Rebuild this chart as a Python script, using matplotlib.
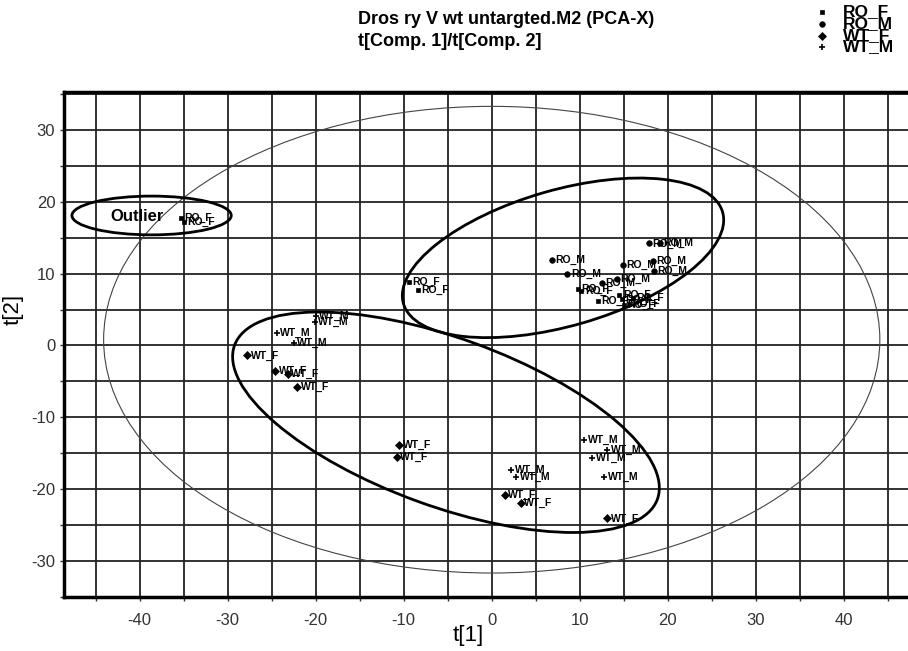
import numpy as np
import matplotlib
matplotlib.use("Agg")
import matplotlib.pyplot as plt
from matplotlib.patches import Ellipse
from matplotlib.transforms import ScaledTranslation

plt.rcParams['font.family'] = ['Liberation Sans', 'DejaVu Sans']
plt.rcParams['axes.unicode_minus'] = False

# scores
ro_f_x = [-35.3, -35.0, -9.4, -8.4, 9.8, 10.2, 12.1, 14.5, 14.8, 15.0, 16.0, 15.6]
ro_f_y = [17.7, 17.2, 8.8, 7.7, 7.8, 7.6, 6.2, 7.0, 6.4, 5.6, 6.6, 5.8]
ro_m_x = [6.8, 8.6, 12.5, 14.2, 14.9, 17.9, 19.1, 18.3, 18.4]
ro_m_y = [11.9, 10.0, 8.75, 9.3, 11.2, 14.2, 14.3, 11.7, 10.4]
wt_f_x = [-27.8, -24.6, -23.2, -22.1, -10.5, -10.8, 1.5, 3.3, 13.1]
wt_f_y = [-1.4, -3.5, -4.0, -5.8, -13.9, -15.5, -20.8, -22.0, -24.1]
wt_m_x = [-20.0, -20.1, -24.4, -22.5, 2.2, 2.8, 10.5, 13.1, 11.4, 12.8]
wt_m_y = [4.1, 3.3, 1.8, 0.3, -17.4, -18.3, -13.2, -14.5, -15.7, -18.3]

groups = [
    ("RO_F", ro_f_x, ro_f_y, "s", 3.5),
    ("RO_M", ro_m_x, ro_m_y, "o", 4),
    ("WT_F", wt_f_x, wt_f_y, "D", 4),
    ("WT_M", wt_m_x, wt_m_y, "+", 4),
]

fig = plt.figure(figsize=(9.08, 6.51), dpi=100)
ax = fig.add_axes([0.0708, 0.0825, 0.9292, 0.7762])
ax.set_xlim(-48.57, 47.3)
ax.set_ylim(-35.08, 35.3)

ax.set_xticks(np.arange(-40, 41, 10))
ax.set_xticks(np.arange(-45, 47, 5), minor=True)
ax.set_yticks(np.arange(-30, 31, 10))
ax.set_yticks(np.arange(-35, 36, 5), minor=True)
ax.grid(True, which='both', color='#222222', lw=1.3)
ax.set_axisbelow(True)
ax.tick_params(which='both', direction='out', length=3, width=1, colors='#333333', labelsize=12)
ax.tick_params(axis='x', pad=8)

for s in ['top', 'bottom', 'left']:
    ax.spines[s].set_linewidth(2.5)
ax.spines['right'].set_visible(False)

# Hotelling T2 ellipse
ax.add_patch(Ellipse((0, 0.8), 88.2, 65, fill=False, lw=0.8, color='#444444'))
# outlier ring
ax.add_patch(Ellipse((-38.65, 18.1), 18.1, 5.4, fill=False, lw=2, color='black'))
ax.text(-40.3, 18.0, "Outlier", fontsize=12, fontweight='bold', ha='center', va='center')


def screen_ellipse(cx, cy, w_px, h_px, ang):
    tr = fig.dpi_scale_trans + ScaledTranslation(cx, cy, ax.transData)
    ax.add_patch(Ellipse((0, 0), w_px / 100, h_px / 100, angle=ang,
                         transform=tr, fill=False, lw=2, color='black'))


screen_ellipse(8.1, 12.2, 332, 136, 16)
screen_ellipse(-5.2, -10.7, 450, 168, -20)

for name, xs, ys, m, ms in groups:
    mew = 1.2 if m == "+" else 0.5
    ax.plot(xs, ys, ls='none', marker=m, ms=ms, color='black', mew=mew)
    for x, y in zip(xs, ys):
        ax.annotate(name, (x, y), xytext=(2.5, 0), textcoords='offset points',
                    va='center', ha='left', fontsize=7.5, fontweight='bold')

ax.set_xlabel("t[1]", fontsize=16)
ax.xaxis.set_label_coords(0.479, -0.055)
ax.set_ylabel("t[2]", fontsize=16)
ax.yaxis.set_label_coords(-0.048, 0.57)

fig.text(358 / 908, 1 - 20 / 651, "Dros ry V wt untargted.M2 (PCA-X)", fontsize=13,
         fontweight='bold', va='center', ha='left')
fig.text(358 / 908, 1 - 42 / 651, "t[Comp. 1]/t[Comp. 2]", fontsize=13,
         fontweight='bold', va='center', ha='left')

leg_y = [12, 24, 36, 47]
for (name, xs, ys, m, ms), yy in zip(groups, leg_y):
    fig.lines.append(plt.Line2D([822 / 908], [1 - yy / 651], transform=fig.transFigure,
                                marker=m, ms=ms, color='black', ls='none',
                                mew=1.2 if m == "+" else 0.5))
    fig.text(843 / 908, 1 - yy / 651, name, fontsize=12.5, fontweight='bold',
             va='center', ha='left')

fig.savefig("out.png", dpi=100)
